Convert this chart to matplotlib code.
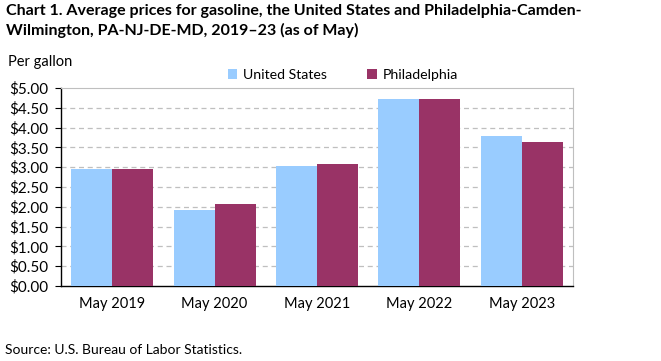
import numpy as np
import matplotlib.pyplot as plt

plt.rcParams['font.family'] = ['Lato', 'DejaVu Sans']

categories = ["May 2019", "May 2020", "May 2021", "May 2022", "May 2023"]
us_prices = [2.96, 1.93, 3.03, 4.71, 3.78]
philly_prices = [2.96, 2.08, 3.08, 4.73, 3.63]
y_ticks = np.arange(0, 5.01, 0.5)

fig = plt.figure(figsize=(6.61, 3.61), dpi=100)
ax = fig.add_axes([61 / 661, 1 - 286 / 361, (573 - 61) / 661, (286 - 88) / 361])

x = np.arange(len(categories))
w = 0.4
ax.bar(x - w / 2, us_prices, width=w, color="#99CCFF", label="United States", zorder=3)
ax.bar(x + w / 2, philly_prices, width=w, color="#993366", label="Philadelphia", zorder=3)

ax.set_xlim(-0.5, len(categories) - 0.5)
ax.set_ylim(0, 5)
ax.set_yticks(y_ticks)
ax.set_yticklabels([f"${v:.2f}" for v in y_ticks], fontsize=11)
ax.set_xticks(x)
ax.set_xticklabels(categories, fontsize=10.5)
ax.tick_params(axis="x", length=0, pad=8)
ax.tick_params(axis="y", length=4, width=0.8, pad=5, color="black")

for v in y_ticks[1:-1]:
    ax.axhline(v, color="#BFBFBF", linestyle=(0, (4, 3)), linewidth=0.9, zorder=1)

ax.spines["left"].set_color("black")
ax.spines["bottom"].set_color("black")
ax.spines["left"].set_linewidth(1.0)
ax.spines["bottom"].set_linewidth(1.0)
ax.spines["top"].set_color("#BFBFBF")
ax.spines["right"].set_color("#BFBFBF")

ax.legend(loc="lower center", bbox_to_anchor=(0.55, 1.0), ncol=2, frameon=False,
          fontsize=10.2, handlelength=0.7, handleheight=0.7, handletextpad=0.4,
          columnspacing=2.8, borderaxespad=0.1)

fig.text(6 / 661, 1 - 4 / 361,
         "Chart 1. Average prices for gasoline, the United States and Philadelphia-Camden-\n"
         "Wilmington, PA-NJ-DE-MD, 2019\u201323 (as of May)",
         fontsize=11.5, fontweight="bold", va="top", ha="left", linespacing=1.45)
fig.text(8 / 661, 1 - 62 / 361, "Per gallon", fontsize=10.5, va="center", ha="left")
fig.text(5 / 661, 1 - 350 / 361, "Source: U.S. Bureau of Labor Statistics.",
         fontsize=10, va="center", ha="left")

fig.savefig("out.png", dpi=100)
